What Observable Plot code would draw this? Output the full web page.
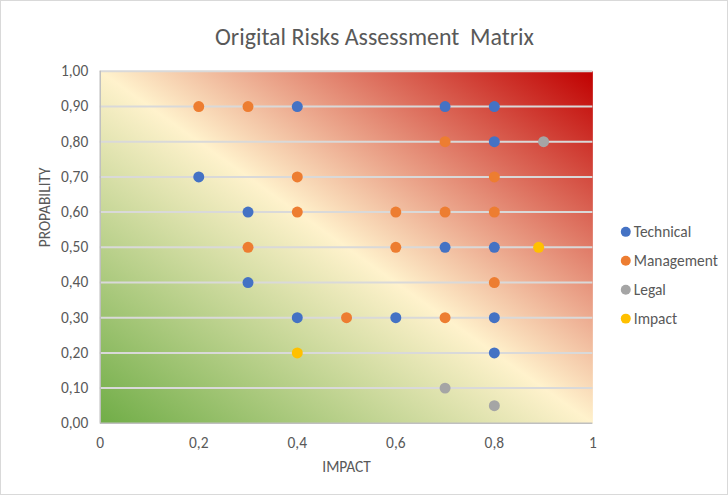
<!DOCTYPE html>
<html>
<head>
<meta charset="utf-8">
<script src="https://cdn.jsdelivr.net/npm/d3@7"></script>
<script src="https://cdn.jsdelivr.net/npm/@observablehq/plot@0.6"></script>
<style>
  html, body { margin: 0; padding: 0; background: #fff; }
  #chart { width: 726px; height: 493px; border: 1px solid #d9d9d9; position: relative; overflow: hidden; }
  #chart svg { position: absolute; left: -1px; top: -1px; }
</style>
</head>
<body>
<div id="chart"></div>
<script>
// ---- Data ----
const categories = ["Technical", "Management", "Legal", "Impact"];
const seriesColors = ["#4472c4", "#ed7d31", "#a5a5a5", "#ffc000"];

const technicalImpact = [0.4, 0.7, 0.8, 0.8, 0.2, 0.3, 0.7, 0.8, 0.3, 0.4, 0.6, 0.8, 0.8];
const technicalProb   = [0.9, 0.9, 0.9, 0.8, 0.7, 0.6, 0.5, 0.5, 0.4, 0.3, 0.3, 0.3, 0.2];

const managementImpact = [0.2, 0.3, 0.7, 0.4, 0.8, 0.4, 0.6, 0.7, 0.8, 0.3, 0.6, 0.8, 0.5, 0.7];
const managementProb   = [0.9, 0.9, 0.8, 0.7, 0.7, 0.6, 0.6, 0.6, 0.6, 0.5, 0.5, 0.4, 0.3, 0.3];

const legalImpact = [0.9, 0.7, 0.8];
const legalProb   = [0.8, 0.1, 0.05];

const impactImpact = [0.89, 0.4];
const impactProb   = [0.5, 0.2];

const xTicks = [0, 0.2, 0.4, 0.6, 0.8, 1];
const xTickLabels = ["0", "0,2", "0,4", "0,6", "0,8", "1"];
const yTicks = [0, 0.1, 0.2, 0.3, 0.4, 0.5, 0.6, 0.7, 0.8, 0.9, 1];
const yTickLabels = ["0,00", "0,10", "0,20", "0,30", "0,40", "0,50", "0,60", "0,70", "0,80", "0,90", "1,00"];

const titleText = "Origital Risks Assessment  Matrix";
const xLabel = "IMPACT";
const yLabel = "PROPABILITY";

// ---- Build ----
const seriesX = [technicalImpact, managementImpact, legalImpact, impactImpact];
const seriesY = [technicalProb, managementProb, legalProb, impactProb];
const series = categories.map((name, i) => ({
  name, color: seriesColors[i],
  points: seriesX[i].map((x, j) => ({x, y: seriesY[i][j]}))
}));

const textColor = "#595959";
const font = "Carlito, Calibri, Lato, sans-serif";
const fs = 15.5;

const legendMarks = [];
series.forEach((s, i) => {
  legendMarks.push(Plot.dot([s.name], {frameAnchor: "top-right", dx: 33, dy: 161 + i * 29, r: 5, fill: s.color}));
  legendMarks.push(Plot.text([s.name], {frameAnchor: "top-right", dx: 41, dy: 161 + i * 29, textAnchor: "start", lineAnchor: "middle", fill: textColor, fontSize: fs}));
});

const chart = Plot.plot({
  width: 728,
  height: 495,
  marginTop: 71,
  marginLeft: 100,
  marginRight: 134,
  marginBottom: 71,
  x: {domain: [0, 1]},
  y: {domain: [0, 1]},
  style: {fontFamily: font, fontSize: fs + "px", color: textColor, background: "transparent"},
  marks: [
    Plot.frame({fill: "url(#riskGrad)", stroke: null}),
    Plot.ruleY(yTicks.slice(1), {stroke: "#d9d9d9", strokeWidth: 2}),
    Plot.ruleY([0], {stroke: "#bfbfbf", strokeWidth: 1.5}),
    Plot.ruleX([0], {stroke: "#bfbfbf", strokeWidth: 1.5}),
    ...series.map(s => Plot.dot(s.points, {x: "x", y: "y", r: 5.5, fill: s.color})),
    Plot.axisX(xTicks, {tickSize: 0, tickPadding: 14, tickFormat: (d, i) => xTickLabels[i], label: null, fill: textColor, fontSize: fs}),
    Plot.axisY(yTicks, {tickSize: 0, tickPadding: 12, tickFormat: (d, i) => yTickLabels[i], label: null, fill: textColor, fontSize: fs}),
    Plot.text([xLabel], {frameAnchor: "bottom", dy: 44, lineAnchor: "middle", fill: textColor, fontSize: fs}),
    Plot.text([yLabel], {frameAnchor: "left", dx: -55, rotate: -90, lineAnchor: "middle", fill: textColor, fontSize: fs}),
    Plot.text([titleText], {frameAnchor: "top", dx: 28, dy: -34, lineAnchor: "middle", fill: textColor, fontSize: 24}),
    ...legendMarks
  ]
});

chart.insertAdjacentHTML("afterbegin",
  `<defs><linearGradient id="riskGrad" x1="0" y1="1" x2="1" y2="0">
     <stop offset="0" stop-color="#70ad47"/>
     <stop offset="0.5" stop-color="#fff2cc"/>
     <stop offset="1" stop-color="#c00000"/>
   </linearGradient></defs>`);

document.getElementById("chart").appendChild(chart);
</script>
</body>
</html>
